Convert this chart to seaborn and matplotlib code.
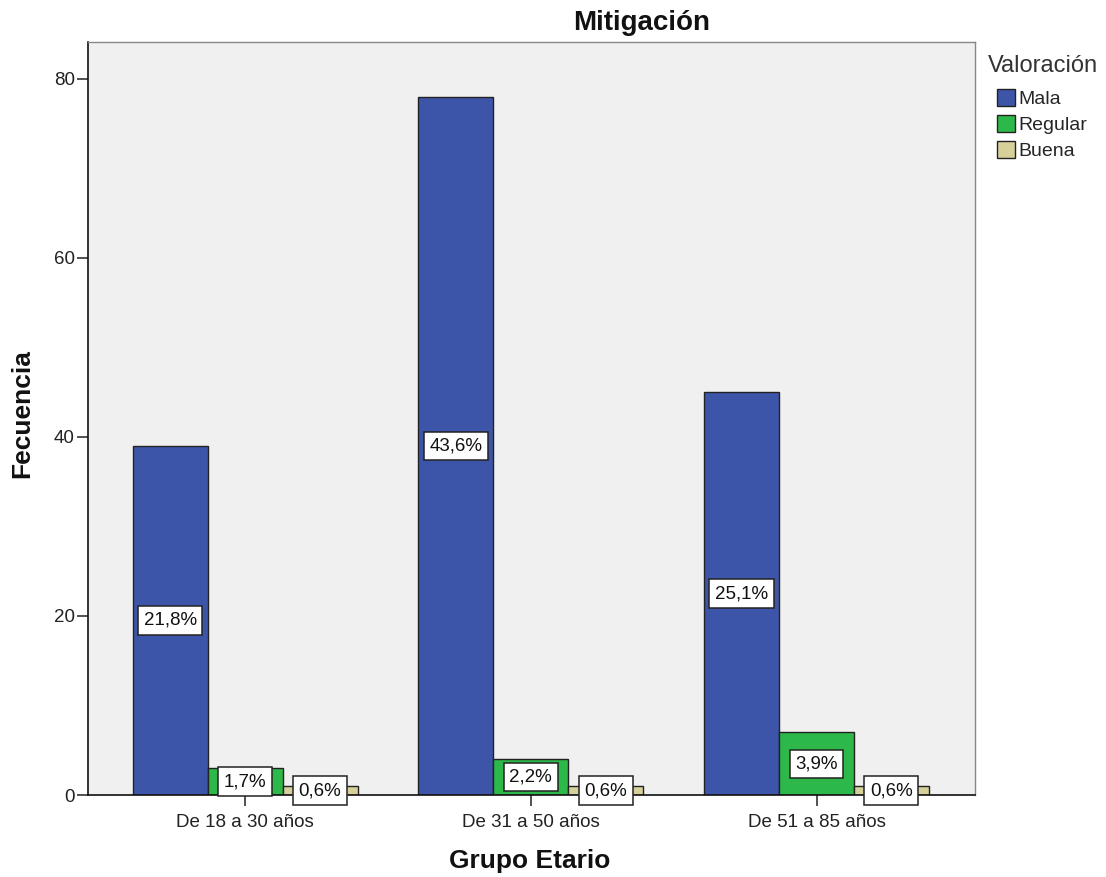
import matplotlib
matplotlib.use("Agg")
import matplotlib.pyplot as plt
import seaborn as sns
import pandas as pd
from matplotlib.patches import Patch

# Frequencies by age group and rating
grupos = ["De 18 a 30 años", "De 31 a 50 años", "De 51 a 85 años"]
valoraciones = ["Mala", "Regular", "Buena"]
mala = [39, 78, 45]
regular = [3, 4, 7]
buena = [1, 1, 1]
colores = ["#3D55A8", "#2DB84A", "#D6D09A"]

rows = []
for serie, vals in zip(valoraciones, [mala, regular, buena]):
    for g, v in zip(grupos, vals):
        rows.append({"Grupo Etario": g, "Valoración": serie, "Frecuencia": v})
df = pd.DataFrame(rows)
total = df["Frecuencia"].sum()

sns.set_theme(style="white")
plt.rcParams["font.family"] = ["Liberation Sans", "DejaVu Sans"]

fig = plt.figure(figsize=(11.06, 8.77), dpi=100)
ax = fig.add_axes([0.0796, 0.0935, 0.8020, 0.8585])
ax.set_facecolor("#F0F0F0")

sns.barplot(data=df, x="Grupo Etario", y="Frecuencia", hue="Valoración",
            order=grupos, hue_order=valoraciones, palette=colores,
            width=0.787, gap=0, saturation=1, edgecolor="#222222",
            linewidth=1.0, legend=False, ax=ax)

for cont in ax.containers:
    labels = [f"{b.get_height() / total * 100:.1f}%".replace(".", ",") for b in cont]
    ax.bar_label(cont, labels=labels, label_type="center", fontsize=13.5,
                 color="#111111",
                 bbox=dict(boxstyle="square,pad=0.3", fc="white", ec="#222222", lw=1.1))

ax.set_xlim(-0.55, 2.555)
ax.set_ylim(0, 84.1)
ax.set_yticks([0, 20, 40, 60, 80])
ax.tick_params(axis="both", direction="out", length=8, width=1.1, color="#222222",
               labelsize=13.5, labelcolor="#222222", bottom=True, left=True)
ax.tick_params(axis="x", pad=6)
ax.tick_params(axis="y", pad=1.5)

for s in ["left", "bottom"]:
    ax.spines[s].set_color("#111111")
    ax.spines[s].set_linewidth(1.2)
for s in ["top", "right"]:
    ax.spines[s].set_color("#888888")
    ax.spines[s].set_linewidth(1.0)

fig.text(642 / 1106, 1 - 23 / 877, "Mitigación", fontsize=20, fontweight="bold",
         color="#111111", ha="center", va="center")
ax.set_xlabel("Grupo Etario", fontsize=19, fontweight="bold", color="#111111")
ax.set_ylabel("Fecuencia", fontsize=19, fontweight="bold", color="#111111")
ax.xaxis.set_label_coords(0.498, -0.0875)
ax.xaxis.label.set_va("center")
ax.yaxis.set_label_coords(-0.0744, 0.507)
ax.yaxis.label.set_va("center")

# Legend: title as its own text, entries below it
fig.text(988 / 1106, 1 - 66 / 877, "Valoración", fontsize=17, color="#333333",
         ha="left", va="center")
handles = [Patch(facecolor=c, edgecolor="#222222", label=l) for c, l in zip(colores, valoraciones)]
fig.legend(handles=handles, loc="upper left",
           bbox_to_anchor=(997 / 1106, 1 - 89 / 877), frameon=False, fontsize=14,
           handlelength=0.95, handleheight=0.95, handletextpad=0.15,
           labelspacing=0.36, borderpad=0, borderaxespad=0)

fig.savefig("out.png", dpi=100, facecolor="white")
